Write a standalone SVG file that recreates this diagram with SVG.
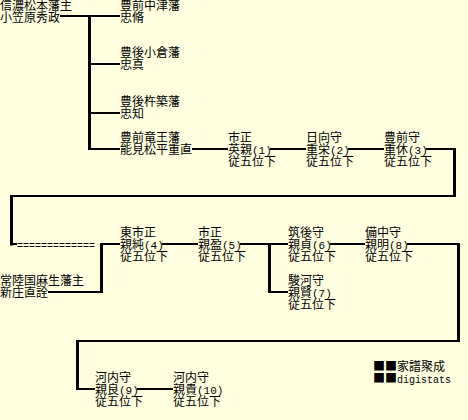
<svg xmlns="http://www.w3.org/2000/svg" width="468" height="420" viewBox="0 0 468 420">
<style>
text{font-family:"Noto Sans CJK JP","Noto Sans CJK SC",sans-serif;font-size:12px;fill:#000}
.m{font-family:"Liberation Mono",monospace;font-size:10px}
.d{font-family:"Liberation Mono",monospace;font-size:11px}
.h{stroke:#000;stroke-width:2;fill:none}
.v{stroke:#000;stroke-width:3;fill:none}
</style>
<rect width="468" height="420" fill="#FFFFE0"/>
<g id="connectors">
<path class="h" d="M60 16H120M89 64H120M89 113H120M89 149H120M192 149H228M270 149H306M348 149H384M426 149H456"/>
<path class="v" d="M89.5 15V150M454.5 148V197M11.5 195V245.5M101.5 243V293M269.5 243V293M458.5 243V342M77.5 340V390"/>
<path class="h" d="M456 196H10M10 244H17M101 244H120M48 292H101M162 244H198M240 244H288M269 292H288M330 244H365M407 244H460M460 341H76M77 389H95M137 389H173"/>
<text class="m" x="17" y="249">=============</text>
</g>
<g id="n_hidemasa"><text x="0" y="10">信濃松本藩主<tspan x="0" dy="11.5">小笠原秀政</tspan></text></g>
<g id="n_tadanaga"><text x="120" y="10">豊前中津藩<tspan x="120" dy="11.5">忠脩</tspan></text></g>
<g id="n_tadazane"><text x="120" y="57">豊後小倉藩<tspan x="120" dy="12">忠真</tspan></text></g>
<g id="n_tadatomo"><text x="120" y="106">豊後杵築藩<tspan x="120" dy="12">忠知</tspan></text></g>
<g id="n_shigenao"><text x="120" y="142">豊前竜王藩<tspan x="120" dy="12">能見松平重直</tspan></text></g>
<g id="n1"><text x="228" y="142">市正<tspan x="228" dy="12">英親</tspan><tspan class="d">(1)</tspan><tspan x="228" dy="12">従五位下</tspan></text></g>
<g id="n2"><text x="306" y="142">日向守<tspan x="306" dy="12">重栄</tspan><tspan class="d">(2)</tspan><tspan x="306" dy="12">従五位下</tspan></text></g>
<g id="n3"><text x="384" y="142">豊前守<tspan x="384" dy="12">重休</tspan><tspan class="d">(3)</tspan><tspan x="384" dy="12">従五位下</tspan></text></g>
<g id="n_naoaki"><text x="0" y="285">常陸国麻生藩主<tspan x="0" dy="12">新庄直詮</tspan></text></g>
<g id="n4"><text x="120" y="237">東市正<tspan x="120" dy="12">親純</tspan><tspan class="d">(4)</tspan><tspan x="120" dy="12">従五位下</tspan></text></g>
<g id="n5"><text x="198" y="237">市正<tspan x="198" dy="12">親盈</tspan><tspan class="d">(5)</tspan><tspan x="198" dy="12">従五位下</tspan></text></g>
<g id="n6"><text x="288" y="237">筑後守<tspan x="288" dy="12">親貞</tspan><tspan class="d">(6)</tspan><tspan x="288" dy="12">従五位下</tspan></text></g>
<g id="n7"><text x="288" y="285">駿河守<tspan x="288" dy="12">親賢</tspan><tspan class="d">(7)</tspan><tspan x="288" dy="12">従五位下</tspan></text></g>
<g id="n8"><text x="365" y="237">備中守<tspan x="365" dy="12">親明</tspan><tspan class="d">(8)</tspan><tspan x="365" dy="12">従五位下</tspan></text></g>
<g id="n9"><text x="95" y="382">河内守<tspan x="95" dy="12">親良</tspan><tspan class="d">(9)</tspan><tspan x="95" dy="12">従五位下</tspan></text></g>
<g id="n10"><text x="173" y="382">河内守<tspan x="173" dy="12">親貴</tspan><tspan class="d">(10)</tspan><tspan x="173" dy="12">従五位下</tspan></text></g>
<g id="logo"><text x="373" y="371">■■家譜聚成<tspan x="373" dy="12">■■</tspan><tspan class="m">digistats</tspan></text></g>
</svg>
